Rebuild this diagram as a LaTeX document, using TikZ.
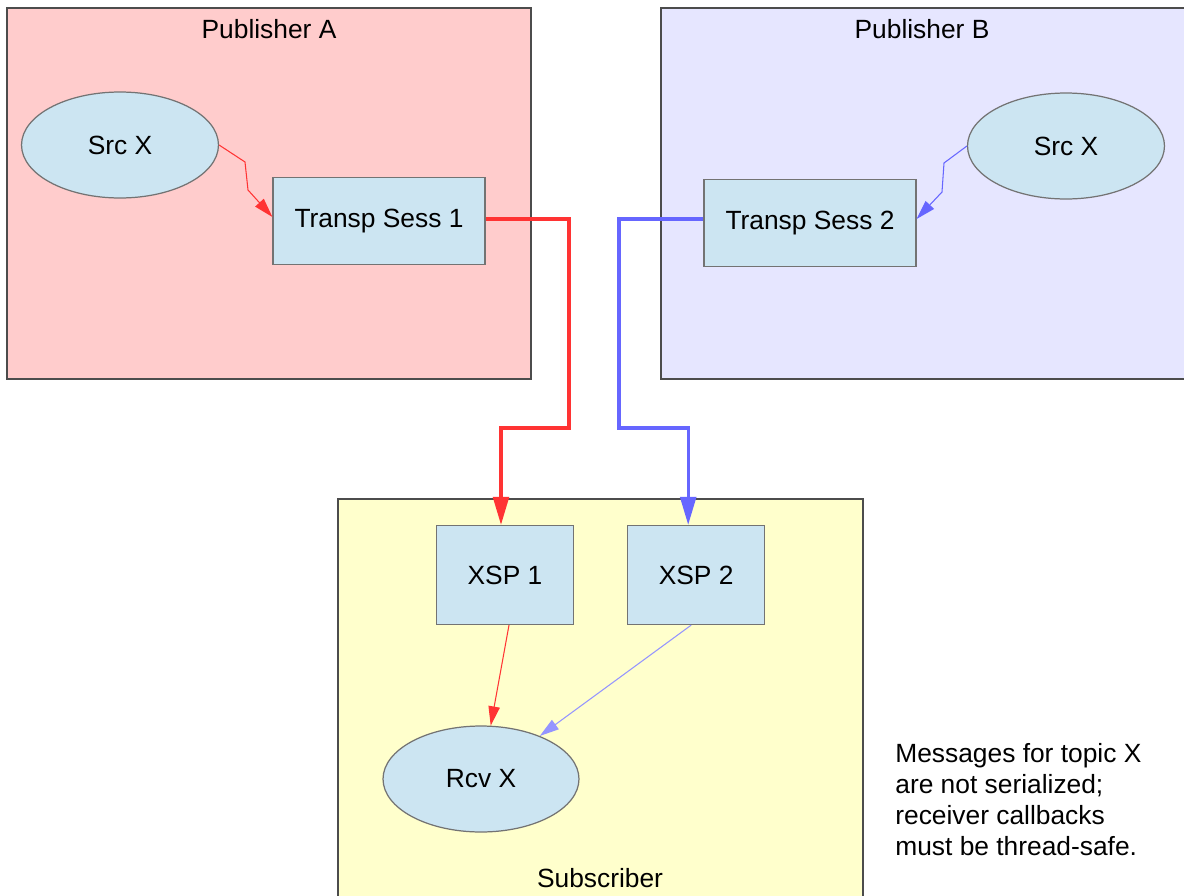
\documentclass[tikz,border=0pt]{standalone}
\usepackage{fontspec}
\setmainfont{Liberation Sans}
\usetikzlibrary{arrows.meta, shapes.geometric, positioning}

\definecolor{pubA}{HTML}{FFCCCC}
\definecolor{pubB}{HTML}{E6E6FF}
\definecolor{subs}{HTML}{FFFFCC}
\definecolor{unit}{HTML}{CCE5F2}
\definecolor{redflow}{HTML}{FF3333}
\definecolor{blueflow}{HTML}{6666FF}

\begin{document}
\begin{tikzpicture}[x=0.02cm, y=-0.02cm, font=\fontsize{15}{17.6}\selectfont,
	group/.style={draw=black!70, line width=0.6pt},
	session/.style={draw=black!55, fill=unit, line width=0.7pt, minimum width=4.24cm, minimum height=1.74cm},
	topic/.style={draw=black!55, fill=unit, line width=0.7pt, ellipse, minimum width=3.94cm, minimum height=2.12cm},
	xsp/.style={draw=black!55, fill=unit, line width=0.7pt, minimum width=2.74cm, minimum height=1.98cm},
	feed/.style={line width=0.6pt, -{Triangle[length=11pt, width=6.5pt]}},
	wire/.style={line width=1.8pt, -{Triangle[length=16pt, width=9pt]}}]
	
	\clip (0,0) rectangle (1184,896);
	\fill[white] (0,0) rectangle (1184,896);
	
	% publishers and subscriber
	\draw[group, fill=pubA] (7,8) rectangle (531,379);
	\draw[group, fill=pubB] (661,8) rectangle (1192,379);
	\draw[group, fill=subs] (338,499) rectangle (863,905);
	\node (pubAlbl) 	at (269,29) 	{Publisher A};
	\node (pubBlbl) 	at (922,29) 	{Publisher B};
	\node (sublbl) 		at (600,878) 	{Subscriber};
	
	\node[topic] 								(srcA) 		at (120,145) 	{Src X};
	\node[session] 								(tsess1) 	at (379,221) 	{Transp Sess 1};
	\node[topic] 								(srcB) 		at (1066,146) 	{Src X};
	\node[session] 								(tsess2) 	at (810,223) 	{Transp Sess 2};
	\node[xsp] 									(xsp1) 		at (505,575) 	{XSP 1};
	\node[xsp, right=1.06cm of xsp1] 			(xsp2) 					{XSP 2};
	\node[topic, minimum width=3.92cm] 			(rcv) 		at (481,779) 	{Rcv X};
	
	\node[anchor=north west, align=left, inner sep=0pt] (note) at (895,743)
		{Messages for topic X\\are not serialized;\\receiver callbacks\\must be thread-safe.};
	
	% connectors
	\draw[feed, redflow] (srcA.east) -- (245,162) -- (248,190) -- ([yshift=0.08cm]tsess1.west);
	\draw[feed, blueflow] (srcB.west) -- (944,163) -- (942,192) -- ([yshift=0.08cm]tsess2.east);
	\draw[wire, redflow] ([yshift=0.04cm]tsess1.east) -| (569,428) -| ([xshift=-0.08cm]xsp1.north);
	\draw[wire, blueflow] ([yshift=0.08cm]tsess2.west) -| (619,428) -| ([xshift=-0.16cm]xsp2.north);
	\draw[feed, redflow] ([xshift=0.08cm]xsp1.south) -- (rcv);
	\draw[feed, blueflow!70] ([xshift=-0.1cm]xsp2.south) -- (rcv);
\end{tikzpicture}
\end{document}
